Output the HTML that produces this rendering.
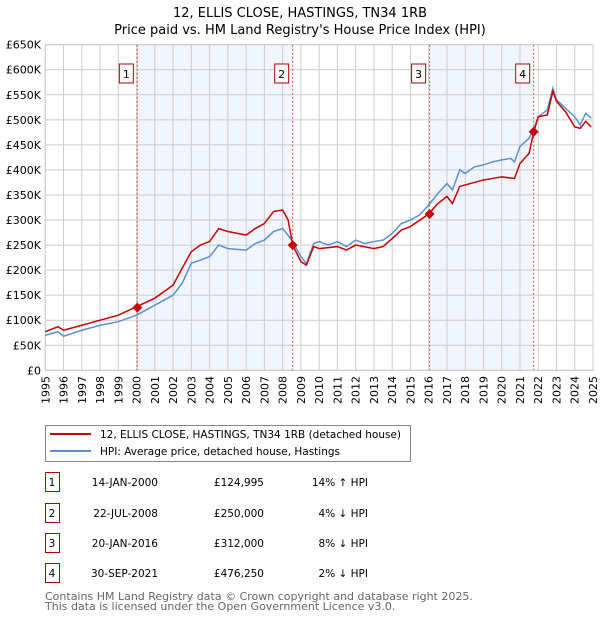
<!DOCTYPE html>
<html><head><meta charset="utf-8"><style>
body{margin:0;background:#fff;width:600px;height:620px;overflow:hidden;font-family:"DejaVu Sans","Liberation Sans",sans-serif}
svg text{font-family:"DejaVu Sans","Liberation Sans",sans-serif}
</style></head><body>
<svg id="chart" width="600" height="620" xmlns="http://www.w3.org/2000/svg">
<text x="300" y="17" font-size="13" text-anchor="middle">12, ELLIS CLOSE, HASTINGS, TN34 1RB</text>
<text x="300" y="34" font-size="13" text-anchor="middle">Price paid vs. HM Land Registry's House Price Index (HPI)</text>
<g id="plot"></g>
<g>
<rect x="45.5" y="425.5" width="365" height="36" fill="#fff" stroke="#888"/>
<line x1="50" y1="434" x2="91" y2="434" stroke="#cc0000" stroke-width="2"/>
<text x="100" y="438" font-size="10.5">12, ELLIS CLOSE, HASTINGS, TN34 1RB (detached house)</text>
<line x1="50" y1="451" x2="91" y2="451" stroke="#5b8fd6" stroke-width="2"/>
<text x="100" y="455" font-size="10.5">HPI: Average price, detached house, Hastings</text>
</g>
<g id="table" font-size="10.5"></g>
<text x="45" y="600" font-size="11" fill="#666">Contains HM Land Registry data © Crown copyright and database right 2025.</text>
<text x="45" y="610" font-size="11" fill="#666">This data is licensed under the Open Government Licence v3.0.</text>
</svg>
<script>
const hpiYears=[1995,1995.7,1996,1997,1998,1999,2000,2001,2002,2002.5,2003,2003.5,2004,2004.5,2005,2006,2006.5,2007,2007.5,2008,2008.5,2009,2009.3,2009.7,2010,2010.5,2011,2011.5,2012,2012.5,2013,2013.5,2014,2014.5,2015,2015.5,2016,2016.5,2017,2017.3,2017.7,2018,2018.5,2019,2019.5,2020,2020.5,2020.7,2021,2021.5,2021.8,2022,2022.5,2022.8,2023,2023.5,2024,2024.3,2024.6,2024.9];
const hpiValues=[70,77,68,80,90,97,110,130,150,174,214,220,227,250,243,240,253,260,277,283,260,227,213,253,257,250,257,247,260,253,257,260,273,293,300,310,330,353,373,360,400,393,406,410,416,420,423,416,447,463,486,506,520,563,540,523,506,490,513,503];
const ppYears=[1995,1995.7,1996,1997,1998,1999,2000,2001,2002,2002.5,2003,2003.5,2004,2004.5,2005,2006,2006.5,2007,2007.5,2008,2008.3,2008.55,2009,2009.3,2009.7,2010,2011,2011.5,2012,2013,2013.5,2014,2014.5,2015,2016,2016.5,2017,2017.3,2017.7,2018,2019,2019.5,2020,2020.7,2021,2021.5,2021.75,2022,2022.5,2022.8,2023,2023.5,2024,2024.3,2024.6,2024.9];
const ppValues=[77,87,80,90,100,110,127,144,170,204,237,250,257,283,277,270,283,293,317,320,300,250,217,210,247,243,247,240,250,243,247,263,280,287,312,333,347,333,367,370,380,383,386,383,413,433,476,506,510,557,537,516,486,483,497,486];
const saleYears=[2000.04,2008.55,2016.05,2021.75];
const saleValues=[124.995,250,312,476.25];
const saleLabels=["1","2","3","4"];
const saleDates=["14-JAN-2000","22-JUL-2008","20-JAN-2016","30-SEP-2021"];
const salePrices=["£124,995","£250,000","£312,000","£476,250"];
const saleHpi=["14% ↑ HPI","4% ↓ HPI","8% ↓ HPI","2% ↓ HPI"];
const yTicks=[0,50,100,150,200,250,300,350,400,450,500,550,600,650];
const xTicks=[1995,1996,1997,1998,1999,2000,2001,2002,2003,2004,2005,2006,2007,2008,2009,2010,2011,2012,2013,2014,2015,2016,2017,2018,2019,2020,2021,2022,2023,2024,2025];

const X0=45.3,X1=593,Y0=370.3,Y1=44.7;
const x=v=>X0+(v-1995)/30*(X1-X0);
const y=v=>Y0-v/650*(Y0-Y1);
const NS="http://www.w3.org/2000/svg";
const plot=document.getElementById('plot');
function mk(tag,attrs,parent){const e=document.createElementNS(NS,tag);for(const k in attrs)e.setAttribute(k,attrs[k]);(parent||plot).appendChild(e);return e;}
for(let i=0;i<4;i+=2){
 const r=mk('rect',{x:x(saleYears[i]),y:Y1,width:x(saleYears[i+1])-x(saleYears[i]),height:Y0-Y1,fill:'#eef3fc',opacity:0.8});
 
 
}
yTicks.forEach(t=>{
 const l=mk('line',{x1:X0,x2:X1,y1:y(t),y2:y(t),stroke:'#ccc'});
 
 
 const tx=mk('text',{x:41,y:y(t)+4,'font-size':11,'text-anchor':'end'});
 tx.textContent=t===0?'£0':'£'+t+'K';
 
 
});
xTicks.forEach(t=>{
 const l=mk('line',{x1:x(t),x2:x(t),y1:Y1,y2:Y0,stroke:'#ccc'});
 
 
 const tx=mk('text',{x:0,y:0,'font-size':11,'text-anchor':'end',transform:`translate(${x(t)+4},376) rotate(-90)`});
 tx.textContent=t;
 
 
});
mk('rect',{x:X0,y:Y1,width:X1-X0,height:Y0-Y1,fill:'none',stroke:'#ccc'});
saleYears.forEach((s,i)=>{
 const l=mk('line',{x1:x(s),x2:x(s),y1:Y1,y2:Y0,stroke:'#e05050','stroke-dasharray':'2,2'});
 
 
 const b=mk('rect',{x:x(s)-18,y:64,width:14,height:19,fill:'#fff',stroke:'#b00000'});
 
 
 const t=mk('text',{x:x(s)-11,y:78,'font-size':11,'text-anchor':'middle'});
 t.textContent=saleLabels[i];
 
 
});
const hp=mk('polyline',{points:hpiYears.map((v,i)=>x(v)+','+y(hpiValues[i])).join(' '),fill:'none',stroke:'#5b8fd6','stroke-width':1.5});


const pp=mk('polyline',{points:ppYears.map((v,i)=>x(v)+','+y(ppValues[i])).join(' '),fill:'none',stroke:'#cc0000','stroke-width':1.5});


saleYears.forEach((s,i)=>{
 const cx=x(s),cy=y(saleValues[i]);
 const d=mk('polygon',{points:`${cx},${cy-5} ${cx+5},${cy} ${cx},${cy+5} ${cx-5},${cy}`,fill:'#cc0000'});
 
 
});
const tb=document.getElementById('table');
const rowY=[482,513,543,573];
saleLabels.forEach((lab,i)=>{
 const ry=rowY[i];
 const b=mk('rect',{x:45.5,y:ry-9.5,width:14,height:19,fill:'#fff',stroke:'#b00000'},tb);
 
 
 const specs=[[52,'middle',lab,'row-number'],[158,'end',saleDates[i],'sale-date'],[264,'end',salePrices[i],'sale-price'],[368,'end',saleHpi[i],'hpi-diff']];
 specs.forEach(s=>{
  const t=mk('text',{x:s[0],y:ry+4,'text-anchor':s[1]},tb);
  t.textContent=s[2];
  
  
 });
});
</script>
</body></html>
